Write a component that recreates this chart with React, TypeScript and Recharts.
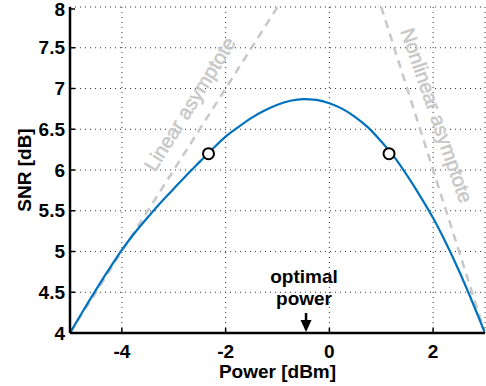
import { ComposedChart, Line, XAxis, YAxis, CartesianGrid, ReferenceLine, ReferenceDot } from "recharts";

// values
const power = [
  -5, -4.75, -4.5, -4.25, -4, -3.75, -3.5, -3.25, -3, -2.75, -2.5, -2.25, -2, -1.75, -1.5, -1.25, -1, -0.75,
  -0.5, -0.25, 0, 0.25, 0.5, 0.75, 1, 1.25, 1.5, 1.75, 2, 2.25, 2.5, 2.75, 3,
];
const snr = [
  4.0, 4.27, 4.53, 4.78, 5.02, 5.23, 5.42, 5.6, 5.77, 5.94, 6.1, 6.26, 6.41, 6.53, 6.64, 6.73, 6.8, 6.85,
  6.87, 6.86, 6.82, 6.75, 6.65, 6.52, 6.35, 6.16, 5.93, 5.68, 5.41, 5.1, 4.76, 4.39, 4.0,
];

const markerPower = [-2.33, 1.15];
const markerSnr = [6.2, 6.2];

const linearPower = [-5, -1];
const linearSnr = [4, 8];
const nonlinearPower = [1, 3];
const nonlinearSnr = [8, 4];

const optimalPower = -0.45;

const xTicks = [-4, -2, 0, 2];
const yTicks = [4, 4.5, 5, 5.5, 6, 6.5, 7, 7.5, 8];

const zip = (xs: number[], ys: number[]) => xs.map((x, i) => ({ x, y: ys[i] }));

const curve = zip(power, snr);
const markers = zip(markerPower, markerSnr);
const linear = zip(linearPower, linearSnr);
const nonlinear = zip(nonlinearPower, nonlinearSnr);

const FONT = "'Liberation Sans', Arial, Helvetica, sans-serif";
const GREY = "#c8c8c8";
const FRAME = { stroke: "#000", strokeWidth: 2.5 };

function BottomTick(props: any) {
  const { x, y, payload } = props;
  return (
    <g>
      <line x1={x} y1={y} x2={x} y2={y - 5} stroke="#000" strokeWidth={1.5} />
      <text x={x} y={y + 25} textAnchor="middle" fontFamily={FONT} fontWeight="bold" fontSize={19} fill="#000">
        {payload.value}
      </text>
    </g>
  );
}

function TopTick(props: any) {
  const { x, y } = props;
  return <line x1={x} y1={y} x2={x} y2={y + 5} stroke="#000" strokeWidth={1.5} />;
}

function LeftTick(props: any) {
  const { x, y, payload } = props;
  return (
    <g>
      <line x1={x} y1={y} x2={x + 5} y2={y} stroke="#000" strokeWidth={1.5} />
      <text x={x - 5} y={y} textAnchor="end" dominantBaseline="central" fontFamily={FONT} fontWeight="bold" fontSize={19} fill="#000">
        {payload.value}
      </text>
    </g>
  );
}

function RightTick(props: any) {
  const { x, y } = props;
  return <line x1={x} y1={y} x2={x - 5} y2={y} stroke="#000" strokeWidth={1.5} />;
}

function OptimalMark(props: any) {
  const x = props.x1;
  const bottom = Math.max(props.y1, props.y2);
  return (
    <g fontFamily={FONT} fontWeight="bold" fontSize={19} fill="#000">
      <line x1={x} y1={bottom - 20} x2={x} y2={bottom - 8} stroke="#000" strokeWidth={2.5} />
      <path d={`M${x - 5.5},${bottom - 13} L${x + 5.5},${bottom - 13} L${x},${bottom - 1} Z`} fill="#000" />
      <text x={x - 2} y={bottom - 50} textAnchor="middle">optimal</text>
      <text x={x - 2} y={bottom - 28} textAnchor="middle">power</text>
    </g>
  );
}

const rotatedLabel = (text: string, angle: number) => (p: any) => (
  <text
    x={p.cx}
    y={p.cy}
    transform={`rotate(${angle} ${p.cx} ${p.cy})`}
    textAnchor="middle"
    dominantBaseline="central"
    fontFamily={FONT}
    fontSize={20}
    fill={GREY}
    stroke={GREY}
    strokeWidth={0.5}
  >
    {text}
  </text>
);

export default function App() {
  return (
    <div style={{ position: "absolute", left: 0, top: 0, width: 486, height: 386, background: "#fff" }}>
      <ComposedChart width={486} height={386} margin={{ top: 7, right: 1, left: 0, bottom: 0 }}>
        <CartesianGrid stroke="#333" strokeDasharray="1 4" />
        <XAxis
          type="number"
          dataKey="x"
          domain={[-5, 3]}
          ticks={xTicks}
          allowDataOverflow
          height={53}
          tickSize={0}
          tickMargin={0}
          tick={BottomTick}
          axisLine={FRAME}
          label={{
            content: ({ viewBox }: any) => (
              <text
                x={viewBox.x + viewBox.width / 2}
                y={viewBox.y + 45}
                textAnchor="middle"
                fontFamily={FONT}
                fontWeight="bold"
                fontSize={19}
                fill="#000"
              >
                Power [dBm]
              </text>
            ),
          }}
        />
        <XAxis
          xAxisId="top"
          orientation="top"
          type="number"
          domain={[-5, 3]}
          ticks={xTicks}
          allowDataOverflow
          height={0}
          tickSize={0}
          tickMargin={0}
          tick={TopTick}
          axisLine={FRAME}
        />
        <YAxis
          type="number"
          domain={[4, 8]}
          ticks={yTicks}
          allowDataOverflow
          width={70}
          tickSize={0}
          tickMargin={0}
          tick={LeftTick}
          axisLine={FRAME}
          label={{
            content: ({ viewBox }: any) => {
              const cx = viewBox.x + 24;
              const cy = viewBox.y + viewBox.height / 2;
              return (
                <text
                  x={cx}
                  y={cy}
                  transform={`rotate(-90 ${cx} ${cy})`}
                  textAnchor="middle"
                  dominantBaseline="central"
                  fontFamily={FONT}
                  fontWeight="bold"
                  fontSize={19}
                  fill="#000"
                >
                  SNR [dB]
                </text>
              );
            },
          }}
        />
        <YAxis
          yAxisId="right"
          orientation="right"
          type="number"
          domain={[4, 8]}
          ticks={yTicks}
          allowDataOverflow
          width={0}
          tickSize={0}
          tickMargin={0}
          tick={RightTick}
          axisLine={FRAME}
        />
        <Line data={linear} dataKey="y" stroke={GREY} strokeWidth={2.5} strokeDasharray="8 6" dot={false} isAnimationActive={false} />
        <Line data={nonlinear} dataKey="y" stroke={GREY} strokeWidth={2.5} strokeDasharray="8 6" dot={false} isAnimationActive={false} />
        <ReferenceDot x={-2.69} y={6.81} r={0} shape={rotatedLabel("Linear asymptote", -58)} />
        <ReferenceDot x={2.07} y={6.67} r={0} shape={rotatedLabel("Nonlinear asymptote", 71)} />
        <Line data={curve} dataKey="y" type="monotone" stroke="#0072BD" strokeWidth={2.2} dot={false} isAnimationActive={false} />
        <Line
          data={markers}
          dataKey="y"
          stroke="none"
          dot={{ r: 5.5, fill: "#fff", stroke: "#000", strokeWidth: 2 }}
          isAnimationActive={false}
        />
        <ReferenceLine x={optimalPower} shape={OptimalMark} />
      </ComposedChart>
    </div>
  );
}
